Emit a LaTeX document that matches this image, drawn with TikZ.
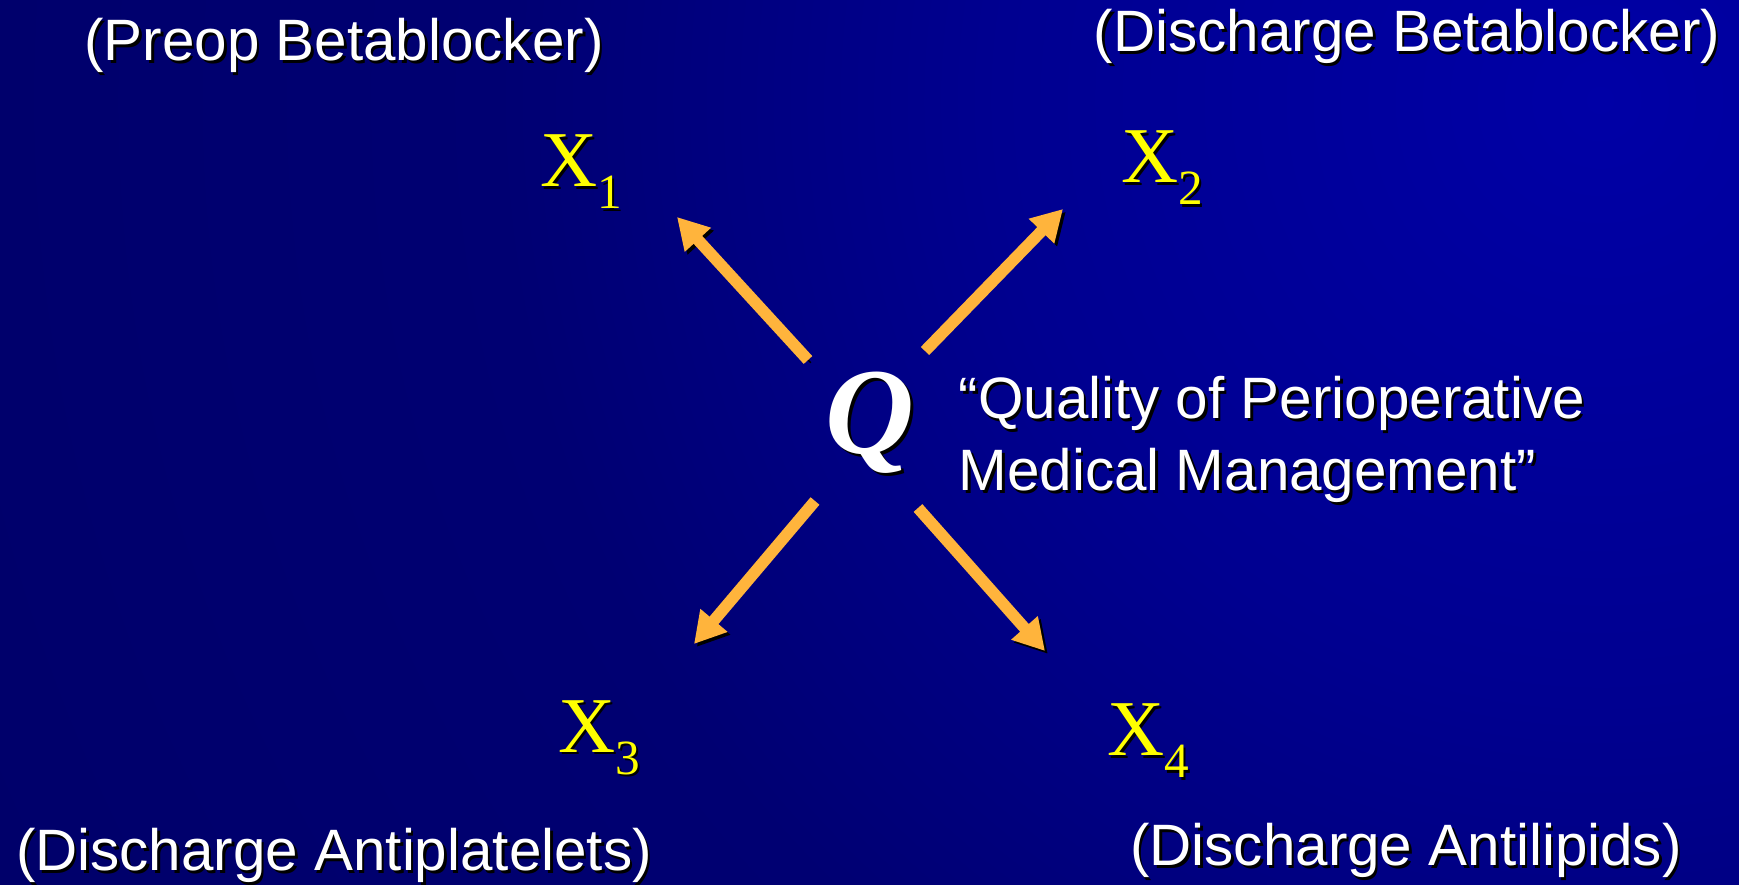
\documentclass[tikz,border=0pt]{standalone}
\usepackage{fontspec}
\usepackage{xcolor}
\setmainfont{Liberation Sans}
\newfontfamily\xfont{Liberation Serif}
\usetikzlibrary{arrows.meta,positioning}
\definecolor{bgA}{HTML}{0000A6}
\definecolor{bgB}{HTML}{000090}
\definecolor{bgC}{HTML}{000072}
\definecolor{bgD}{HTML}{000065}
\definecolor{bgE}{HTML}{00005A}
\definecolor{arroworange}{HTML}{FFB43C}
\definecolor{xyellow}{HTML}{FFFF00}
\pgfdeclareradialshading{slidebg}{\pgfpoint{0bp}{0bp}}{color(0bp)=(bgA); color(7.9bp)=(bgB);
 color(14.5bp)=(bgC); color(28.9bp)=(bgD); color(42.1bp)=(bgE); color(50bp)=(bgE)}
% white text with a small black drop shadow
\newcommand\shd[1]{\leavevmode\rlap{\kern0.7pt\raisebox{-0.7pt}{\color{black}#1}}#1}
\newcommand\xlab[1]{\shd{X\raisebox{-0.28em}{\fontsize{14}{14}\selectfont #1}}}
\begin{document}
\begin{tikzpicture}[x=0.01cm,y=-0.01cm,
 font=\fontsize{16.6}{20.5}\selectfont,
 label/.style={text=white,inner sep=0pt},
 var/.style={text=xyellow,inner sep=0pt,font=\xfont\fontsize{22.5}{24}\selectfont},
 link/.style={-{Triangle[length=8.8pt,width=9.5pt]},draw=arroworange,line width=3.3pt,
 preaction={draw=black,transform canvas={xshift=0.8pt,yshift=-0.8pt}}}]
\useasboundingbox (0,0) rectangle (1739,885);
\begin{scope}
\clip (0,0) rectangle (1739,885);
\fill[bgE] (0,0) rectangle (1739,885);
\shade[shading=slidebg] (1600,100) circle (19cm);
\end{scope}
% factor and indicators
\node[inner sep=0pt,text=white,font=\xfont\bfseries\itshape\fontsize{35}{36}\selectfont] (q) at (870,424) {\shd{Q}};
\node[label,anchor=west,align=left] (qtext) at (958,441) {\shd{“Quality of Perioperative}\\\shd{Medical Management”}};
\node[var] (x1) at (581,173) {\xlab{1}};
\node[var] (x2) at (1162,169) {\xlab{2}};
\node[var] (x3) at (599,739) {\xlab{3}};
\node[var] (x4) at (1148,742) {\xlab{4}};
\node[label] (l1) at (344,47) {\shd{(Preop Betablocker)}};
\node[label] (l2) at (1407,38) {\shd{(Discharge Betablocker)}};
\node[label] (l3) at (334,857) {\shd{(Discharge Antiplatelets)}};
\node[label] (l4) at (1406,852) {\shd{(Discharge Antilipids)}};
% arrow ends
\coordinate (s1) at (808,360); \coordinate (t1) at (677,217);
\coordinate (s2) at (925,351); \coordinate (t2) at (1063,209);
\coordinate (s3) at (815,501); \coordinate (t3) at (694,644);
\coordinate (s4) at (918,508); \coordinate (t4) at (1045,651);
\draw[link] (s1)--(t1); \draw[link] (s2)--(t2);
\draw[link] (s3)--(t3); \draw[link] (s4)--(t4);
\end{tikzpicture}
\end{document}
